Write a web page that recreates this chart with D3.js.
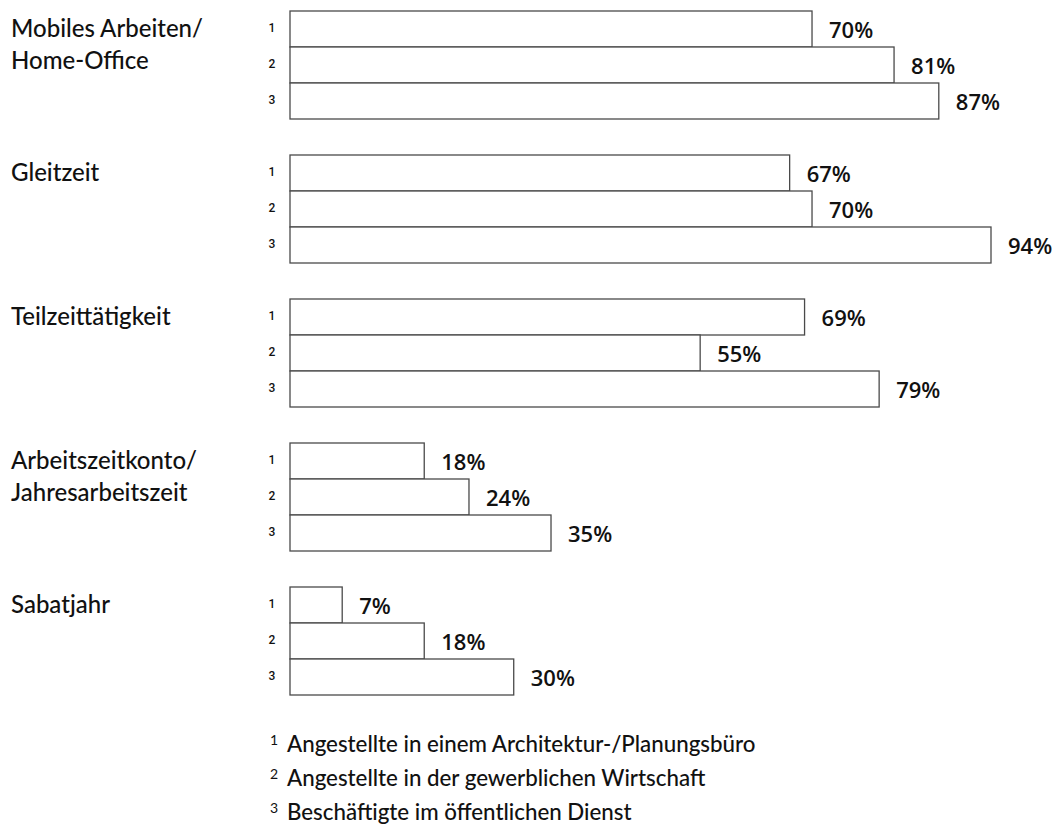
<!DOCTYPE html>
<html>
<head>
<meta charset="utf-8">
<script src="https://cdn.jsdelivr.net/npm/d3@7"></script>
<style>
  body { margin: 0; background: #fff; }
  svg { display: block; }
</style>
</head>
<body>
<div id="chart"></div>
<script>
var categories = [
    ['Mobiles Arbeiten/', 'Home-Office'],
    ['Gleitzeit'],
    ['Teilzeittätigkeit'],
    ['Arbeitszeitkonto/', 'Jahresarbeitszeit'],
    ['Sabatjahr']
];
var series = ['1', '2', '3'];
var architekturValues = [70, 67, 69, 18, 7];
var gewerblichValues = [81, 70, 55, 24, 18];
var oeffentlichValues = [87, 94, 79, 35, 30];
var footnotes = [
    'Angestellte in einem Architektur-/Planungsbüro',
    'Angestellte in der gewerblichen Wirtschaft',
    'Beschäftigte im öffentlichen Dienst'
];

var width = 1059, height = 827;
var labelFont = 'Lato, "Open Sans", sans-serif';
var valueFont = '"Open Sans", Lato, sans-serif';

var svg = d3.select('#chart').append('svg')
    .attr('width', width)
    .attr('height', height);

var rows = categories.map(function(c, i) {
    return {
        key: i,
        lines: c,
        values: [architekturValues[i], gewerblichValues[i], oeffentlichValues[i]]
    };
});

var y0 = d3.scaleBand()
    .domain(rows.map(function(d) { return d.key; }))
    .range([11, 695])
    .paddingInner(0.25)
    .paddingOuter(0);

var y1 = d3.scaleBand()
    .domain(series)
    .range([0, y0.bandwidth()])
    .padding(0);

var x = d3.scaleLinear()
    .domain([0, 94])
    .range([290, 991]);

var group = svg.selectAll('g.group')
    .data(rows)
    .enter().append('g')
    .attr('class', 'group')
    .attr('transform', function(d) { return 'translate(0,' + y0(d.key) + ')'; });

// category names
group.append('text')
    .attr('x', 11)
    .attr('y', 26)
    .attr('font-family', labelFont)
    .attr('font-size', 24)
    .attr('font-weight', 500)
    .attr('fill', '#111')
    .selectAll('tspan')
    .data(function(d) { return d.lines; })
    .enter().append('tspan')
    .attr('x', 11)
    .attr('dy', function(d, i) { return i === 0 ? 0 : 32; })
    .text(function(d) { return d; });

var bar = group.selectAll('g.bar')
    .data(function(d) {
        return d.values.map(function(v, i) { return { s: series[i], v: v }; });
    })
    .enter().append('g')
    .attr('class', 'bar');

bar.append('rect')
    .attr('x', x(0))
    .attr('y', function(d) { return y1(d.s); })
    .attr('width', function(d) { return x(d.v) - x(0); })
    .attr('height', y1.bandwidth())
    .attr('fill', '#fff')
    .attr('stroke', '#4a4a4a')
    .attr('stroke-width', 1.3);

bar.append('text')
    .attr('x', 272)
    .attr('y', function(d) { return y1(d.s) + y1.bandwidth() / 2 - 1; })
    .attr('dy', '0.35em')
    .attr('text-anchor', 'middle')
    .attr('font-family', 'Roboto, sans-serif')
    .attr('font-size', 12)
    .attr('font-weight', 500)
    .attr('fill', '#111')
    .text(function(d) { return d.s; });

bar.append('text')
    .attr('x', function(d) { return x(d.v) + 17; })
    .attr('y', function(d) { return y1(d.s) + y1.bandwidth() / 2 + 1; })
    .attr('dy', '0.36em')
    .attr('font-family', valueFont)
    .attr('font-size', 22)
    .attr('font-weight', 600)
    .attr('fill', '#111')
    .text(function(d) { return d.v + '%'; });

// footnotes
var notes = svg.append('g')
    .selectAll('g')
    .data(footnotes)
    .enter().append('g')
    .attr('transform', function(d, i) { return 'translate(0,' + (752 + i * 34) + ')'; });

notes.append('text')
    .attr('x', 270)
    .attr('y', -7)
    .attr('font-family', labelFont)
    .attr('font-size', 14)
    .attr('fill', '#111')
    .text(function(d, i) { return series[i]; });

notes.append('text')
    .attr('x', 287)
    .attr('y', 0)
    .attr('font-family', labelFont)
    .attr('font-size', 22.3)
    .attr('font-weight', 500)
    .attr('fill', '#111')
    .text(function(d) { return d; });
</script>
</body>
</html>
